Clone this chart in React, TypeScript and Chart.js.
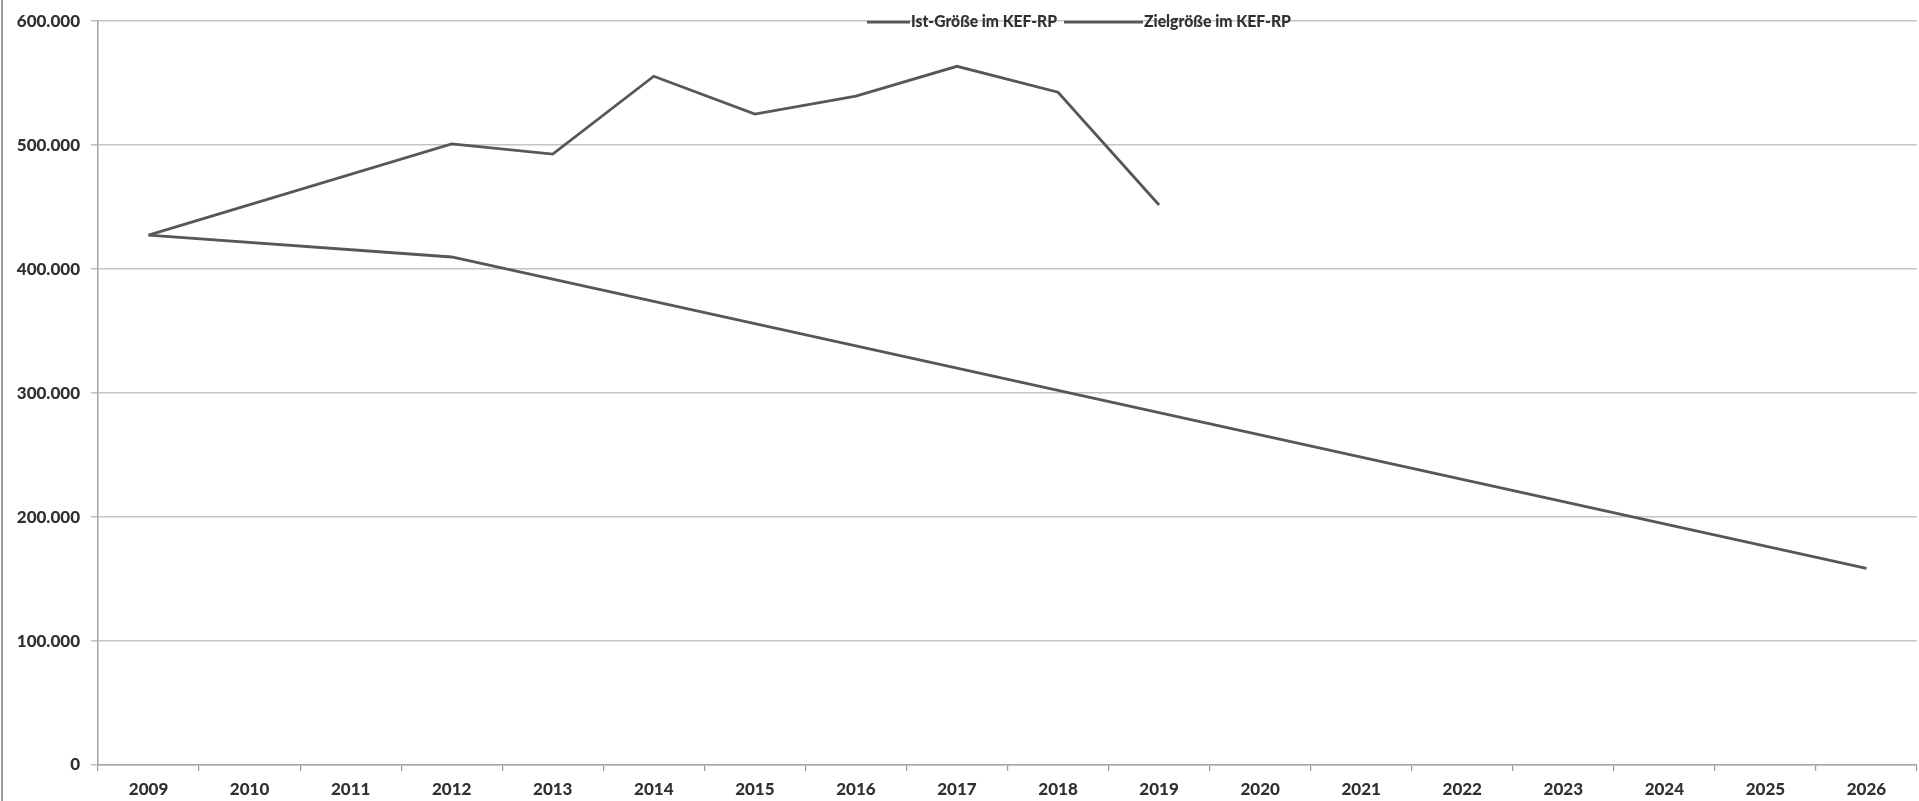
import React, { useEffect, useRef } from "react";
import { Chart, registerables } from "chart.js";

Chart.register(...registerables);

const years = ["2009","2010","2011","2012","2013","2014","2015","2016","2017","2018","2019","2020","2021","2022","2023","2024","2025","2026"];
const istValues = [427500, null, null, 501000, 492800, 555600, 525000, 539500, 563600, 542700, 451700, null, null, null, null, null, null, null];
const zielValues = [427500, null, null, 409800, null, null, null, null, null, null, null, null, null, null, null, null, null, 158600];
const seriesNames = ["Ist-Größe im KEF-RP", "Zielgröße im KEF-RP"];
const yTicks = [0, 100000, 200000, 300000, 400000, 500000, 600000];

const LINE = "#575757";
const TEXT = "#303030";
const FONT = "Lato, 'Open Sans', sans-serif";

function fmt(v: number): string {
  return String(v).replace(/\B(?=(\d{3})+(?!\d))/g, ".");
}

const legendPlugin = {
  id: "customLegend",
  afterDraw(chart: any) {
    const ctx = chart.ctx;
    const y = chart.chartArea.top + 1;
    ctx.save();
    ctx.font = `900 16px ${FONT}`;
    ctx.fillStyle = TEXT;
    ctx.textBaseline = "middle";
    ctx.textAlign = "left";
    ctx.strokeStyle = LINE;
    ctx.lineWidth = 2.8;
    // item 1
    ctx.beginPath();
    ctx.moveTo(867, y);
    ctx.lineTo(910, y);
    ctx.stroke();
    ctx.fillText(seriesNames[0], 911, y, 146);
    // item 2
    ctx.beginPath();
    ctx.moveTo(1064, y);
    ctx.lineTo(1143, y);
    ctx.stroke();
    ctx.fillText(seriesNames[1], 1144, y, 147);
    ctx.restore();
  },
};

export default function App() {
  const ref = useRef<HTMLCanvasElement | null>(null);
  useEffect(() => {
    if (!ref.current) return;
    const chart = new Chart(ref.current, {
      type: "line",
      data: {
        labels: years,
        datasets: [
          {
            label: seriesNames[0],
            data: istValues,
            borderColor: LINE,
            borderWidth: 2.8,
            pointRadius: 0,
            spanGaps: true,
            tension: 0,
            fill: false,
          },
          {
            label: seriesNames[1],
            data: zielValues,
            borderColor: LINE,
            borderWidth: 2.8,
            pointRadius: 0,
            spanGaps: true,
            tension: 0,
            fill: false,
          },
        ],
      },
      options: {
        animation: false,
        responsive: true,
        maintainAspectRatio: false,
        layout: { padding: { top: 20, right: 2, bottom: 0, left: 0 } },
        plugins: {
          legend: { display: false },
          tooltip: { enabled: false },
        },
        scales: {
          x: {
            type: "category",
            offset: true,
            grid: {
              offset: true,
              drawOnChartArea: false,
              drawTicks: true,
              tickLength: 6,
              color: "#9a9a9a",
              lineWidth: 1.2,
            },
            border: { display: true, color: "#a8a8a8", width: 1.6 },
            ticks: {
              color: TEXT,
              font: { family: FONT, size: 17, weight: "900" },
              padding: 8,
              maxRotation: 0,
              autoSkip: false,
            },
            afterFit: (scale: any) => {
              scale.height = 36;
            },
          },
          y: {
            min: 0,
            max: 600000,
            afterBuildTicks: (scale: any) => {
              scale.ticks = yTicks.map((v) => ({ value: v }));
            },
            grid: {
              color: "#c4c4c4",
              lineWidth: 1.6,
              drawTicks: true,
              tickLength: 7,
            },
            border: { display: true, color: "#a8a8a8", width: 1.6 },
            ticks: {
              color: TEXT,
              font: { family: FONT, size: 17, weight: "900" },
              padding: 11,
              callback: (v: any) => fmt(Number(v)),
            },
            afterFit: (scale: any) => {
              scale.width = 98;
            },
          },
        },
      },
      plugins: [legendPlugin],
    });
    return () => chart.destroy();
  }, []);

  return (
    <div style={{ position: "fixed", left: 0, top: 0, width: "1919px", height: "801px", background: "#fff" }}>
      <div style={{ position: "absolute", left: "1px", top: 0, width: "2px", height: "801px", background: "#9c9c9c" }} />
      <canvas ref={ref} />
    </div>
  );
}
